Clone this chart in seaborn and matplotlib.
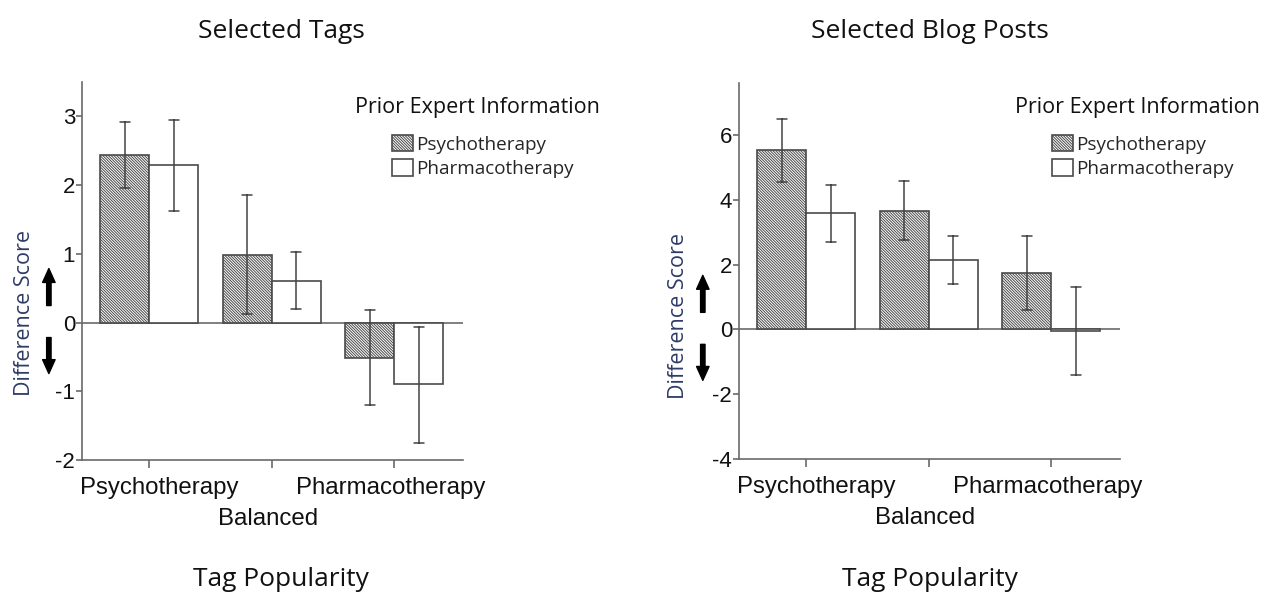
import matplotlib
matplotlib.use("Agg")
import matplotlib.pyplot as plt
import matplotlib.transforms as mtransforms
import seaborn as sns
import pandas as pd

# ---------------- data ----------------
categories = ["Psychotherapy", "Balanced", "Pharmacotherapy"]
groups = ["Psychotherapy", "Pharmacotherapy"]

tags_psych_mean = [2.44, 0.99, -0.51]
tags_psych_lo = [1.96, 0.13, -1.20]
tags_psych_hi = [2.92, 1.85, 0.18]
tags_pharm_mean = [2.29, 0.60, -0.90]
tags_pharm_lo = [1.63, 0.19, -1.75]
tags_pharm_hi = [2.94, 1.02, -0.06]

blog_psych_mean = [5.54, 3.65, 1.73]
blog_psych_lo = [4.56, 2.75, 0.59]
blog_psych_hi = [6.49, 4.58, 2.87]
blog_pharm_mean = [3.58, 2.13, -0.04]
blog_pharm_lo = [2.69, 1.39, -1.41]
blog_pharm_hi = [4.46, 2.87, 1.32]

tags_yticks = [-2, -1, 0, 1, 2, 3]
blog_yticks = [-4, -2, 0, 2, 4, 6]

panel_titles = ["Selected Tags", "Selected Blog Posts"]
x_title = "Tag Popularity"
y_title = "Difference Score"
legend_title = "Prior Expert Information"


def long_frame(pm, plo, phi, hm, hlo, hhi):
    rows = []
    for i, cat in enumerate(categories):
        for g, (m, lo, hi) in zip(groups, [(pm, plo, phi), (hm, hlo, hhi)]):
            for v in (lo[i], m[i], hi[i]):
                rows.append({"cat": cat, "group": g, "value": v})
    return pd.DataFrame(rows)


df_tags = long_frame(tags_psych_mean, tags_psych_lo, tags_psych_hi,
                     tags_pharm_mean, tags_pharm_lo, tags_pharm_hi)
df_blog = long_frame(blog_psych_mean, blog_psych_lo, blog_psych_hi,
                     blog_pharm_mean, blog_pharm_lo, blog_pharm_hi)

# ---------------- style ----------------
sns.set_theme(style="white")
plt.rcParams["font.family"] = ["Liberation Sans", "DejaVu Sans"]
plt.rcParams["hatch.linewidth"] = 0.7

HUMAN = ["Open Sans", "DejaVu Sans"]
EDGE = "#4a4a4a"
AXC = "#6a6a6a"

fig = plt.figure(figsize=(12.63, 5.97), dpi=100)
W, H = 1263, 597

axes_px = [(82, 82, 463, 460), (739, 83, 1120, 459)]
ylims = [(-2, 3.5), (-4, 7.6)]
yticks_all = [tags_yticks, blog_yticks]
frames = [df_tags, df_blog]
title_x = [281, 930]
label_coords = [(-0.123, 0.389), (-0.131, 0.379)]
arrow_x = [-0.087, -0.095]
legend_px = [(355, 392), (1015, 1052)]
label_shift_px = [10, -4, -4]

for k in range(2):
    x0, y0, x1, y1 = axes_px[k]
    ax = fig.add_axes([x0 / W, 1 - y1 / H, (x1 - x0) / W, (y1 - y0) / H])
    sns.barplot(data=frames[k], x="cat", y="value", hue="group",
                order=categories, hue_order=groups,
                estimator="median", errorbar=("pi", 100),
                palette=["white", "white"], edgecolor=EDGE, linewidth=1.2,
                capsize=0.16, err_kws={"color": "#444444", "linewidth": 1.1},
                width=0.8, ax=ax)
    for p in ax.containers[0]:
        p.set_hatch("\\" * 12)
    ax.axhline(0, color=AXC, lw=1.2, zorder=0.5)
    ax.set_ylim(*ylims[k])
    ax.set_xlim(-0.55, 2.56)
    ax.set_yticks(yticks_all[k])
    ax.set_yticklabels([str(t) for t in yticks_all[k]])
    sns.despine(ax=ax)
    for s in ("left", "bottom"):
        ax.spines[s].set_color(AXC)
        ax.spines[s].set_linewidth(1.2)
    ax.tick_params(axis="y", which="major", left=True, length=4, width=1.2,
                   color=AXC, pad=1, labelsize=16, labelcolor="#111111")
    ax.tick_params(axis="x", which="major", bottom=True, length=6, width=1.2,
                   color=AXC, pad=6, labelsize=17.3, labelcolor="#111111")
    ax.set_xlabel("")
    ax.set_ylabel(y_title, fontfamily=HUMAN, fontsize=15.5, color="#2e3b66")
    ax.yaxis.set_label_coords(*label_coords[k])
    # stagger middle category label, small horizontal nudges
    labs = ax.get_xticklabels()
    for j, lab in enumerate(labs):
        dy = -0.31 if j == 1 else 0.0
        lab.set_transform(lab.get_transform() +
                          mtransforms.ScaledTranslation(label_shift_px[j] / 100, dy,
                                                        fig.dpi_scale_trans))

    # arrows
    blend = mtransforms.blended_transform_factory(ax.transAxes, ax.transData)
    def off(dy_px):
        return mtransforms.offset_copy(blend, fig=fig, x=0, y=dy_px, units="dots")
    style = "simple,head_width=0.9,head_length=1.0,tail_width=0.32"
    ax.annotate("", xy=(arrow_x[k], 0), xycoords=off(54),
                xytext=(arrow_x[k], 0), textcoords=off(17),
                arrowprops=dict(arrowstyle=style, color="black", mutation_scale=10,
                                shrinkA=0, shrinkB=0), annotation_clip=False)
    ax.annotate("", xy=(arrow_x[k], 0), xycoords=off(-51),
                xytext=(arrow_x[k], 0), textcoords=off(-15),
                arrowprops=dict(arrowstyle=style, color="black", mutation_scale=10,
                                shrinkA=0, shrinkB=0), annotation_clip=False)

    # legend
    lx_title, lx_patch = legend_px[k]
    ax.get_legend().remove()
    handles = [ax.containers[0], ax.containers[1]]
    fig.text(lx_title / W, 1 - 107 / H, legend_title, fontfamily=HUMAN,
             fontsize=15.5, ha="left", va="center", color="#111111")
    fig.legend(handles, groups, loc="upper left",
               bbox_to_anchor=(lx_patch / W, 1 - 135 / H),
               frameon=False, borderpad=0, borderaxespad=0,
               handlelength=1.1, handleheight=0.95, handletextpad=0.2,
               labelspacing=0.3,
               prop={"family": HUMAN, "size": 13.6})

    fig.text(title_x[k] / W, 1 - 31 / H, panel_titles[k], fontfamily=HUMAN,
             fontsize=19, ha="center", va="center", color="#111111")
    fig.text(title_x[k] / W, 1 - 580 / H, x_title, fontfamily=HUMAN,
             fontsize=19, ha="center", va="center", color="#111111")

fig.savefig("out.png", dpi=100)
